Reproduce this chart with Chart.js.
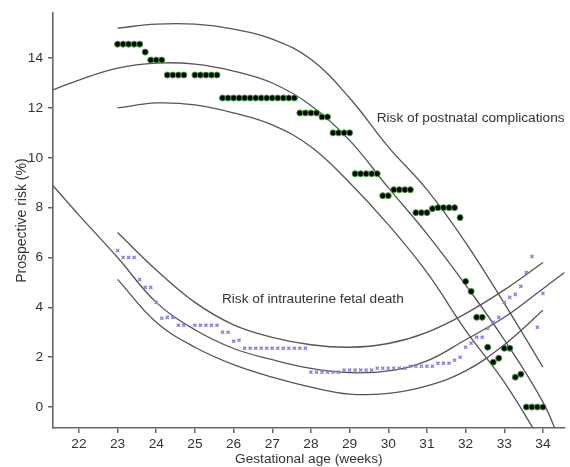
<!DOCTYPE html>
<html>
<head>
<meta charset="utf-8">
<script src="https://cdn.jsdelivr.net/npm/chart.js@4"></script>
<style>
  html, body { margin: 0; padding: 0; background: #fff; }
  #wrap { width: 570px; height: 467px; }
</style>
</head>
<body>
<div id="wrap"><canvas id="myChart" width="570" height="467"></canvas></div>
<script>
// observed risks, one value per day from 23+0 to 34+0 weeks (day 13 missing)
const complicationRisk = [
  14.56, 14.56, 14.56, 14.56, 14.56, 14.24, 13.92, 13.92, 13.92, 13.32,
  13.32, 13.32, 13.32, null, 13.32, 13.32, 13.32, 13.32, 13.32, 12.4,
  12.4, 12.4, 12.4, 12.4, 12.4, 12.4, 12.4, 12.4, 12.4, 12.4,
  12.4, 12.4, 12.4, 11.8, 11.8, 11.8, 11.8, 11.64, 11.64, 11.0,
  11.0, 11.0, 11.0, 9.36, 9.36, 9.36, 9.36, 9.36, 8.48, 8.48,
  8.72, 8.72, 8.72, 8.72, 7.8, 7.8, 7.8, 7.96, 8.0, 8.0,
  8.0, 8.0, 7.6, 5.04, 4.64, 3.6, 3.6, 2.4, 1.8, 1.96,
  2.36, 2.36, 1.2, 1.32, 0, 0, 0, 0
];
const fetalDeathRisk = [
  6.28, 6.0, 6.0, 6.0, 5.12, 4.8, 4.8, 4.2, 3.56, 3.6,
  3.6, 3.28, 3.28, null, 3.28, 3.28, 3.28, 3.28, 3.28, 3.0,
  3.0, 2.64, 2.68, 2.36, 2.36, 2.36, 2.36, 2.36, 2.36, 2.36,
  2.36, 2.36, 2.36, 2.36, 2.36, 1.4, 1.4, 1.4, 1.4, 1.4,
  1.4, 1.48, 1.48, 1.48, 1.48, 1.48, 1.48, 1.56, 1.56, 1.56,
  1.56, 1.56, 1.56, 1.64, 1.64, 1.64, 1.64, 1.64, 1.76, 1.76,
  1.76, 1.88, 2.0, 2.4, 2.56, 2.8, 2.8, 3.16, 3.4, 3.6,
  4.2, 4.4, 4.52, 4.84, 5.4, 6.04, 3.2, 4.56
];

// fitted curves: [weeks, risk]
const complicationFit = [[21.33, 12.72], [22, 13.12], [23, 13.6], [24, 13.8], [25, 13.76], [26, 13.48],
  [27, 13.0], [28, 12.1], [29, 10.7], [30, 8.8], [31, 6.95], [32, 4.9], [33, 2.7], [34, 0.2], [34.5, -1.6]];
const complicationUpper = [[23, 15.2], [24, 15.36], [25, 15.36], [26, 15.16], [27, 14.76], [28, 13.95],
  [29, 12.4], [30, 10.44], [31, 8.72], [32, 6.6], [33, 4.16], [34, 1.6]];
const complicationLower = [[23, 12.0], [24, 12.2], [25, 12.12], [26, 11.8], [27, 11.32], [28, 10.44],
  [29, 9.0], [30, 7.32], [31, 5.4], [32, 3.08], [33, 1.0], [34, -1.5]];
const fetalFit = [[21.33, 8.88], [22, 7.7], [23, 6.0], [24, 4.2], [25, 3.1], [26, 2.35], [27, 1.9],
  [28, 1.55], [29, 1.38], [30, 1.45], [31, 1.85], [32, 2.7], [33, 3.6], [34, 4.75], [34.56, 5.4]];
const fetalUpper = [[23, 7.0], [24, 5.5], [25, 4.2], [26, 3.3], [27, 2.8], [28, 2.5], [29, 2.4],
  [30, 2.55], [31, 3.0], [32, 3.75], [33, 4.7], [34, 5.8]];
const fetalLower = [[23, 5.12], [24, 3.4], [25, 2.4], [26, 1.7], [27, 1.2], [28, 0.8], [29, 0.52],
  [30, 0.55], [31, 0.85], [32, 1.45], [33, 2.5], [34, 3.88]];

const xTicks = [22, 23, 24, 25, 26, 27, 28, 29, 30, 31, 32, 33, 34];
const yTicks = [0, 2, 4, 6, 8, 10, 12, 14];
const labels = [
  { text: 'Risk of postnatal complications', x: 32.13, y: 11.6 },
  { text: 'Risk of intrauterine fetal death', x: 28.05, y: 4.32 }
];

const ga = i => 23 + i / 7;
const toPoints = arr => arr.map(v => ({ x: v[0], y: v[1] }));
const dayPoints = arr => arr.map((v, i) => ({ x: ga(i), y: v }));

const lineStyle = {
  showLine: true, pointRadius: 0, borderColor: '#555', borderWidth: 1.3,
  tension: 0.4, fill: false, order: 2
};

const fontFamily = '"Liberation Sans", Arial, sans-serif';
const font = { family: fontFamily, size: 13.7 };

const textPlugin = {
  id: 'curveLabels',
  afterDatasetsDraw(chart) {
    const ctx = chart.ctx;
    const xs = chart.scales.x, ys = chart.scales.y;
    ctx.save();
    ctx.font = '13.7px ' + fontFamily;
    ctx.fillStyle = '#333';
    ctx.textAlign = 'center';
    ctx.textBaseline = 'middle';
    labels.forEach(l => ctx.fillText(l.text, xs.getPixelForValue(l.x), ys.getPixelForValue(l.y)));
    ctx.restore();
  }
};

new Chart(document.getElementById('myChart').getContext('2d'), {
  type: 'scatter',
  data: {
    datasets: [
      { data: dayPoints(complicationRisk), pointStyle: 'circle', pointRadius: 3, borderWidth: 1,
        backgroundColor: '#050505', borderColor: '#3a9a3a', order: 0 },
      { data: dayPoints(fetalDeathRisk), pointStyle: 'crossRot', pointRadius: 2.2, borderWidth: 1.4,
        borderColor: '#8484d8', order: 1 },
      Object.assign({ data: toPoints(complicationFit) }, lineStyle),
      Object.assign({ data: toPoints(complicationUpper) }, lineStyle),
      Object.assign({ data: toPoints(complicationLower) }, lineStyle),
      Object.assign({ data: toPoints(fetalFit) }, lineStyle),
      Object.assign({ data: toPoints(fetalUpper) }, lineStyle),
      Object.assign({ data: toPoints(fetalLower) }, lineStyle)
    ]
  },
  options: {
    responsive: false,
    animation: false,
    layout: { padding: { top: 12, right: 0, left: 0, bottom: 0 } },
    plugins: { legend: { display: false }, tooltip: { enabled: false } },
    scales: {
      x: {
        type: 'linear', min: 21.33, max: 34.56,
        afterFit: s => { s.height = 39; },
        afterBuildTicks: s => { s.ticks = xTicks.map(v => ({ value: v })); },
        grid: { drawOnChartArea: false, drawTicks: true, tickLength: 5, color: '#666', lineWidth: 1.5 },
        border: { color: '#666', width: 1.6 },
        ticks: { color: '#333', font: font, padding: 3, autoSkip: false, maxRotation: 0 },
        title: { display: true, text: 'Gestational age (weeks)', color: '#333', font: font, padding: { top: 0, bottom: 0 } }
      },
      y: {
        type: 'linear', min: -0.84, max: 15.8,
        afterFit: s => { s.width = 53; },
        afterBuildTicks: s => { s.ticks = yTicks.map(v => ({ value: v })); },
        grid: { drawOnChartArea: false, drawTicks: true, tickLength: 5, color: '#666', lineWidth: 1.5 },
        border: { color: '#666', width: 1.6 },
        ticks: { color: '#333', font: font, padding: 5 },
        title: { display: true, text: 'Prospective risk (%)', color: '#333', font: { family: fontFamily, size: 14 }, padding: { top: 14, bottom: 0 } }
      }
    }
  },
  plugins: [textPlugin]
});
</script>
</body>
</html>
